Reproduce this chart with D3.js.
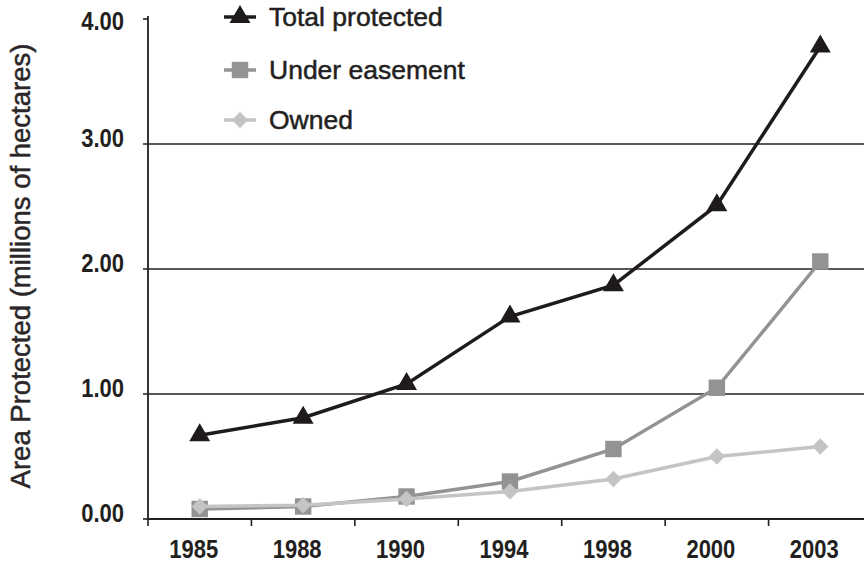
<!DOCTYPE html>
<html>
<head>
<meta charset="utf-8">
<script src="https://cdn.jsdelivr.net/npm/d3@7"></script>
<style>
  body { margin: 0; background: #fff; }
  svg text { fill: #231f20; }
</style>
</head>
<body>
<svg id="chart" width="864" height="564"></svg>
<script>
// data
const years = ['1985', '1988', '1990', '1994', '1998', '2000', '2003'];
const totalProtected = [0.67, 0.81, 1.08, 1.62, 1.87, 2.51, 3.78];
const underEasement = [0.08, 0.10, 0.18, 0.30, 0.56, 1.05, 2.06];
const owned = [0.10, 0.11, 0.16, 0.22, 0.32, 0.50, 0.58];
const yTicks = [0, 1, 2, 3, 4];

const svg = d3.select('#chart');
const plotLeft = 148, plotRight = 872, plotTop = 19, plotBottom = 519;

const x = d3.scaleBand().domain(years).range([plotLeft, plotRight]);
const y = d3.scaleLinear().domain([0, 4]).range([plotBottom, plotTop]);

const labelFont = '"Liberation Sans", Arial, Helvetica, sans-serif';
// no narrow font around, so squeeze the bold one
const squeeze = 0.88;

// grid lines + y ticks
svg.append('g').selectAll('line')
    .data(yTicks)
    .join('line')
    .attr('x1', 143)
    .attr('x2', d => (d === 0 || d === 4) ? plotLeft : 864)
    .attr('y1', d => y(d))
    .attr('y2', d => y(d))
    .attr('stroke', '#231f20')
    .attr('stroke-width', 1.6);

svg.append('g').selectAll('text')
    .data(yTicks)
    .join('text')
    .attr('transform', d => `translate(124,${Math.max(y(d) - 6, 21)}) scale(${squeeze},1)`)
    .attr('dy', '0.35em')
    .attr('text-anchor', 'end')
    .style('font-family', labelFont)
    .style('font-weight', 'bold')
    .style('font-size', '25px')
    .text(d => d.toFixed(2));

// axes lines
svg.append('line')
    .attr('x1', plotLeft).attr('x2', plotLeft)
    .attr('y1', 16).attr('y2', plotBottom)
    .attr('stroke', '#231f20').attr('stroke-width', 1.8);

svg.append('line')
    .attr('x1', plotLeft).attr('x2', 864)
    .attr('y1', plotBottom).attr('y2', plotBottom)
    .attr('stroke', '#231f20').attr('stroke-width', 1.8);

// x ticks at band edges
svg.append('g').selectAll('line')
    .data(years)
    .join('line')
    .attr('x1', d => x(d))
    .attr('x2', d => x(d))
    .attr('y1', plotBottom)
    .attr('y2', plotBottom + 7)
    .attr('stroke', '#231f20')
    .attr('stroke-width', 1.6);

svg.append('g').selectAll('text')
    .data(years)
    .join('text')
    .attr('transform', d => `translate(${x(d) + x.bandwidth() / 2 - 6},549) scale(${squeeze},1)`)
    .attr('dy', '0.35em')
    .attr('text-anchor', 'middle')
    .style('font-family', labelFont)
    .style('font-weight', 'bold')
    .style('font-size', '25px')
    .text(d => d);

// y axis title
svg.append('text')
    .attr('transform', 'translate(30,266) rotate(-90)')
    .attr('text-anchor', 'middle')
    .style('font-family', labelFont)
    .style('font-size', '27.5px')
    .style('fill', '#2b2728')
    .style('stroke', '#2b2728')
    .style('stroke-width', 0.5)
    .text('Area Protected (millions of hectares)');

const series = [
    {name: 'Under easement', values: underEasement, color: '#939393', symbol: d3.symbolSquare, size: 270},
    {name: 'Owned', values: owned, color: '#c4c4c4', symbol: d3.symbolDiamond2, size: 170},
    {name: 'Total protected', values: totalProtected, color: '#1f1b1c', symbol: d3.symbolTriangle, size: 190}
];

const line = d3.line()
    .x((d, i) => x(years[i]) + x.bandwidth() / 2)
    .y(d => y(d));

series.forEach(s => {
    svg.append('path')
        .datum(s.values)
        .attr('d', line)
        .attr('fill', 'none')
        .attr('stroke', s.color)
        .attr('stroke-width', 3.5);

    svg.append('g').selectAll('path')
        .data(s.values)
        .join('path')
        .attr('transform', (d, i) => `translate(${x(years[i]) + x.bandwidth() / 2},${y(d)})`)
        .attr('d', d3.symbol(s.symbol, s.size))
        .attr('fill', s.color);
});

// legend
const legendRows = [
    {name: 'Total protected', ly: 17, color: '#1f1b1c', symbol: d3.symbolTriangle, size: 190},
    {name: 'Under easement', ly: 70, color: '#939393', symbol: d3.symbolSquare, size: 270},
    {name: 'Owned', ly: 120, color: '#c4c4c4', symbol: d3.symbolDiamond2, size: 170}
];

const lg = svg.append('g');
legendRows.forEach(r => {
    lg.append('line')
        .attr('x1', 224).attr('x2', 256)
        .attr('y1', r.ly).attr('y2', r.ly)
        .attr('stroke', r.color).attr('stroke-width', 3.5);
    lg.append('path')
        .attr('transform', `translate(240,${r.ly})`)
        .attr('d', d3.symbol(r.symbol, r.size))
        .attr('fill', r.color);
    lg.append('text')
        .attr('x', 269)
        .attr('y', r.ly)
        .attr('dy', '0.35em')
        .style('font-family', labelFont)
        .style('font-size', '26.5px')
        .style('stroke', '#231f20')
        .style('stroke-width', 0.5)
        .text(r.name);
});
</script>
</body>
</html>
